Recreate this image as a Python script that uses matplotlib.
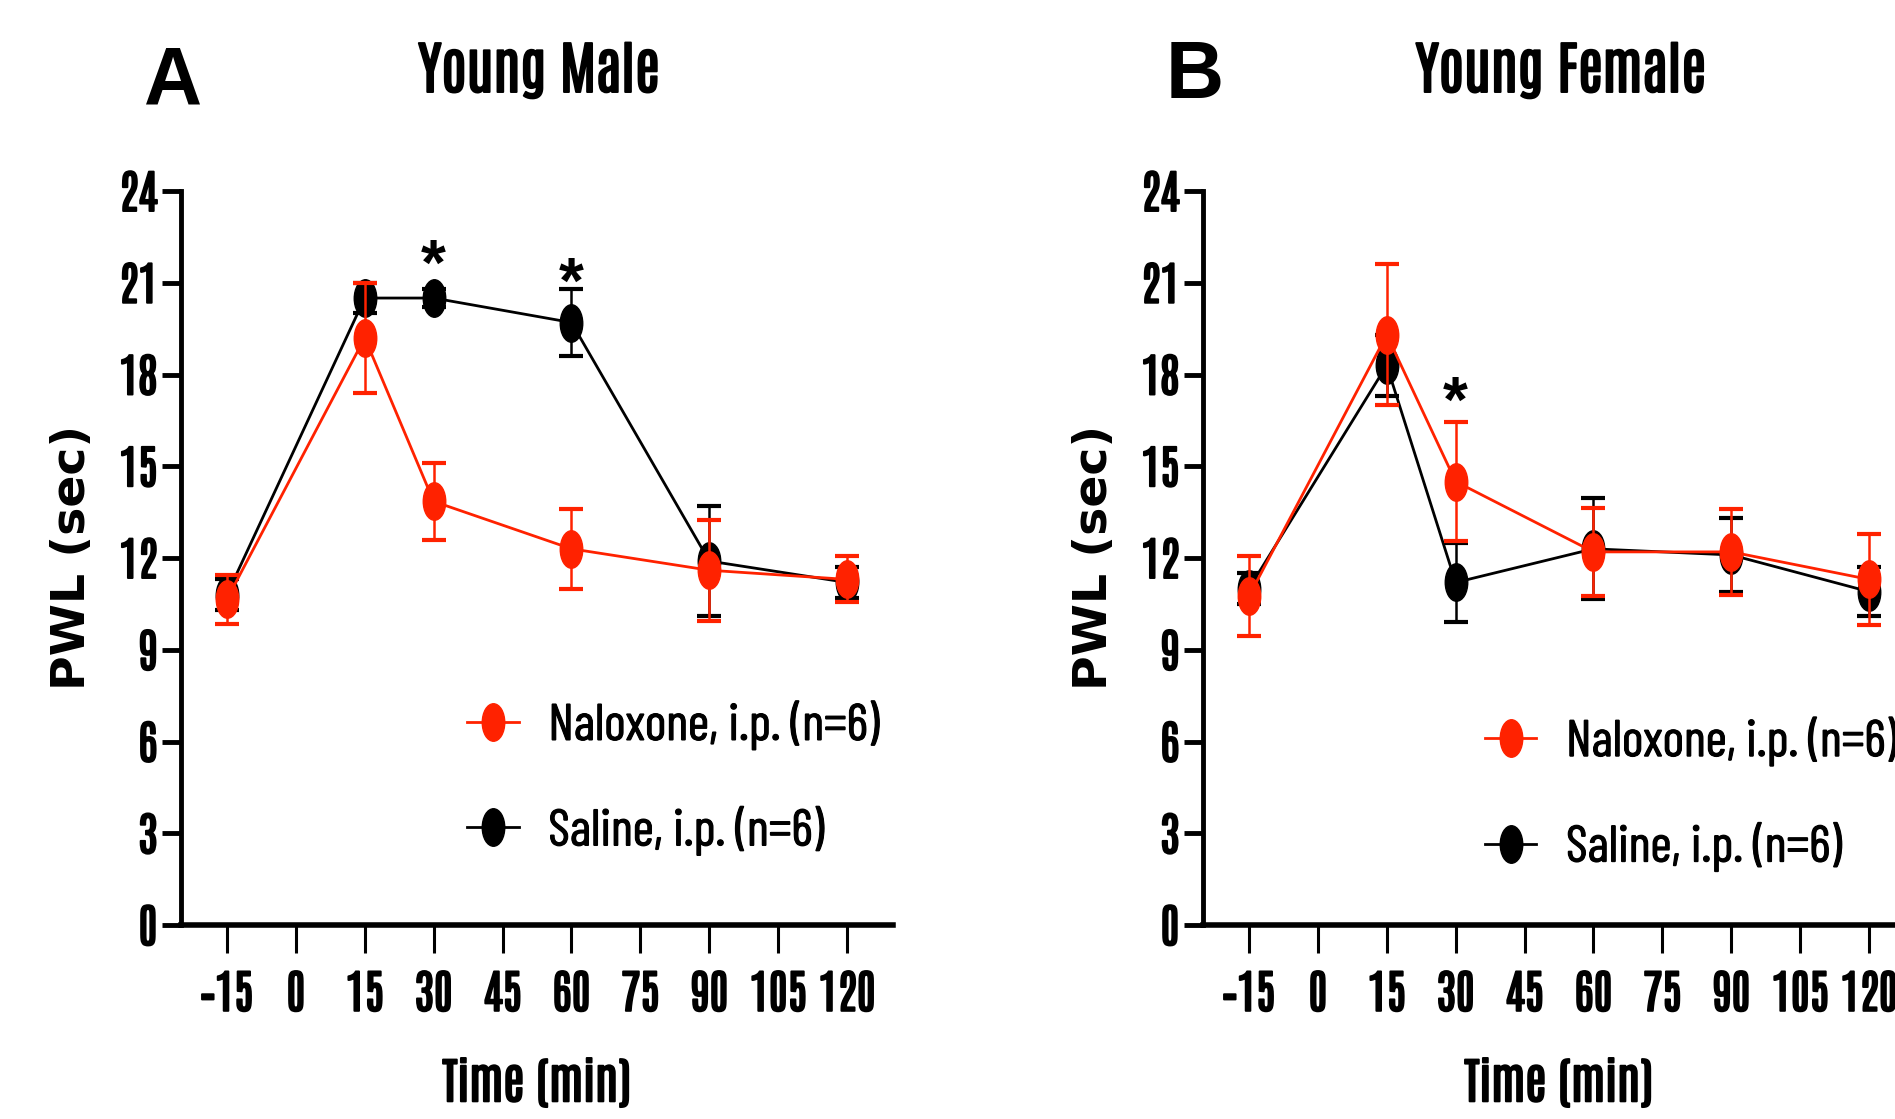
import matplotlib
matplotlib.use('Agg')
import matplotlib.pyplot as plt
import matplotlib.patheffects as pe
from matplotlib.path import Path

# time points (min)
time_pts = [-15, 15, 30, 60, 90, 120]
x_ticks = [-15, 0, 15, 30, 45, 60, 75, 90, 105, 120]
y_ticks = [0, 3, 6, 9, 12, 15, 18, 21, 24]

# Young male PWL (sec), mean and error
male_nal = [10.65, 19.2, 13.85, 12.3, 11.6, 11.3]
male_nal_err = [0.8, 1.8, 1.25, 1.3, 1.65, 0.75]
male_sal = [10.8, 20.5, 20.5, 19.7, 11.9, 11.2]
male_sal_err = [0.5, 0.5, 0.3, 1.1, 1.8, 0.5]
male_star_x = [30, 60]
male_star_y = [21.5, 20.9]

# Young female PWL (sec)
fem_nal = [10.75, 19.3, 14.5, 12.2, 12.2, 11.3]
fem_nal_err = [1.3, 2.3, 1.95, 1.45, 1.4, 1.5]
fem_sal = [11.0, 18.3, 11.2, 12.3, 12.1, 10.9]
fem_sal_err = [0.5, 1.0, 1.3, 1.65, 1.2, 0.8]
fem_star_x = [30]
fem_star_y = [17.0]

labels = ['Naloxone, i.p. (n=6)', 'Saline, i.p. (n=6)']
RED = '#ff2200'
BLACK = '#000000'

# condensed fonts, like the squeezed Prism figure
BOLD_NARROW = ['Antonio', 'Sofia Sans Extra Condensed', 'Roboto Condensed', 'DejaVu Sans']
REG_NARROW = ['Barlow Condensed', 'Roboto Condensed', 'DejaVu Sans']
# Antonio has no bold face, so thicken it with an outline
thick = [pe.withStroke(linewidth=1.4, foreground='black')]

# vertically stretched dot marker
circ = Path.unit_circle()
ellipse = Path(circ.vertices * [0.6, 1.0], circ.codes)

W, H = 1895, 1119
fig = plt.figure(figsize=(W / 100, H / 100), dpi=100)


def panel(left_px, means, title, letter, letter_xy, title_x, star_x, star_y, leg_xy):
    ax = fig.add_axes([left_px / W, (H - 925) / H, 712 / W, 734 / H])
    for spine in ['top', 'right']:
        ax.spines[spine].set_visible(False)
    ax.spines['left'].set_linewidth(3.5)
    ax.spines['bottom'].set_linewidth(4)
    ax.set_xlim(-25, 130)
    ax.set_ylim(0, 24)
    ax.set_xticks(x_ticks)
    ax.set_yticks(y_ticks)
    ax.tick_params(axis='x', length=20, width=2.2, pad=13)
    ax.tick_params(axis='y', length=14, width=3.5, pad=3)
    for lab in ax.get_xticklabels() + ax.get_yticklabels():
        lab.set_fontfamily(BOLD_NARROW)
        lab.set_fontweight('bold')
        lab.set_fontsize(33)
        lab.set_path_effects(thick)

    (sal, sal_err), (nal, nal_err) = means
    ax.errorbar(time_pts, sal, yerr=sal_err, fmt='none', ecolor=BLACK, elinewidth=1.8,
                capsize=8.5, capthick=3, clip_on=False)
    ax.plot(time_pts, sal, color=BLACK, lw=2.0, marker=ellipse, ms=27, label=labels[1],
            clip_on=False)
    ax.errorbar(time_pts, nal, yerr=nal_err, fmt='none', ecolor=RED, elinewidth=1.8,
                capsize=8.5, capthick=3, clip_on=False)
    ax.plot(time_pts, nal, color=RED, lw=2.0, marker=ellipse, ms=27, label=labels[0],
            clip_on=False)

    for sx, sy in zip(star_x, star_y):
        ax.text(sx, sy, '*', ha='center', va='center', fontsize=46, fontweight='bold',
                family='Liberation Sans')

    h, l = ax.get_legend_handles_labels()
    leg = ax.legend(h[::-1], l[::-1], loc='center left', bbox_to_anchor=leg_xy, frameon=False,
                    prop={'family': REG_NARROW, 'size': 37}, handlelength=1.0,
                    handletextpad=0.58, labelspacing=1.07, borderpad=0, borderaxespad=0)
    for t in leg.get_texts():
        t.set_path_effects([pe.withStroke(linewidth=0.8, foreground='black')])

    ax.set_xlabel('Time (min)', fontfamily=BOLD_NARROW, fontweight='bold', fontsize=35,
                  path_effects=thick)
    ax.xaxis.set_label_coords(0.5, -0.215)
    ax.xaxis.label.set_va('center')
    ax.set_ylabel('PWL (sec)', fontfamily='DejaVu Sans', fontweight='bold', fontsize=34)
    ax.yaxis.set_label_coords(-0.152, 0.5)
    ax.yaxis.label.set_va('center')

    fig.text(title_x / W, 1 - 71 / H, title, ha='center', va='center',
             fontfamily=BOLD_NARROW, fontweight='bold', fontsize=41, path_effects=thick)
    fig.text(letter_xy[0] / W, 1 - letter_xy[1] / H, letter, ha='center', va='center',
             fontfamily='Liberation Sans', fontweight='bold', fontsize=58)
    return ax


panel(181, [(male_sal, male_sal_err), (male_nal, male_nal_err)], 'Young Male', 'A',
      (173, 83), 539, male_star_x, male_star_y, (0.402, 0.201))
panel(1203, [(fem_sal, fem_sal_err), (fem_nal, fem_nal_err)], 'Young Female', 'B',
      (1195, 77), 1561, fem_star_x, fem_star_y, (0.396, 0.179))

fig.savefig('out.png', dpi=100)
